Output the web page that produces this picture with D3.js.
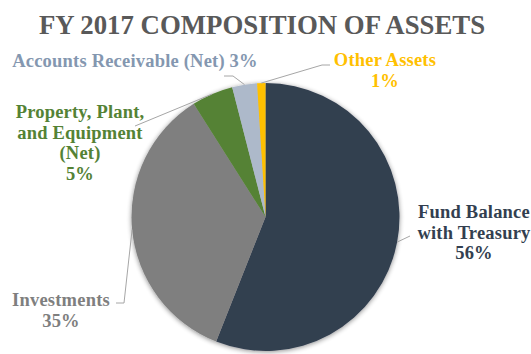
<!DOCTYPE html>
<html>
<head>
<meta charset="utf-8">
<script src="https://cdn.jsdelivr.net/npm/d3@7"></script>
<style>
  html, body { margin: 0; padding: 0; background: #fff; }
  svg { display: block; }
  text { font-family: "Liberation Serif", "DejaVu Serif", serif; font-weight: bold; }
</style>
</head>
<body>
<svg id="chart" width="531" height="354"></svg>
<script>
// Asset categories and their share of total assets (%), clockwise from 12 o'clock
const categories = [
  "Fund Balance with Treasury",
  "Investments",
  "Property, Plant, and Equipment (Net)",
  "Accounts Receivable (Net)",
  "Other Assets"
];
const shares = [56, 35, 5, 3, 1];
const colors = ["#333f50", "#7f7f7f", "#548235", "#adb9ca", "#ffc000"];
const labelColors = ["#333f50", "#7f7f7f", "#548235", "#8497b0", "#ffc000"];
const title = "FY 2017 COMPOSITION OF ASSETS";

// Label text lines (last line carries the percentage)
const labelLines = [
  ["Fund Balance", "with Treasury", "56%"],
  ["Investments", "35%"],
  ["Property, Plant,", "and Equipment", "(Net)", "5%"],
  ["Accounts Receivable (Net) 3%"],
  ["Other Assets", "1%"]
];

// Layout: label anchor (centre x, first baseline y) and leader elbow points
const layout = [
  { x: 474, y: 218, lead: [[410, 236]] },
  { x: 61, y: 306, lead: [[116, 303], [124, 303]] },
  { x: 80, y: 118, lead: [[135, 126]] },
  { x: 135, y: 67, lead: [[224, 76], [233, 76]] },
  { x: 385, y: 66, lead: [[330, 65], [322, 65]] }
];

const svg = d3.select("#chart");
const cx = 265.5, cy = 217, r = 134;
const lineH = 20.5;

svg.append("text")
  .attr("x", 262).attr("y", 34)
  .attr("text-anchor", "middle")
  .attr("fill", "#595959")
  .style("font-size", "26.8px")
  .text(title);

const defs = svg.append("defs");
const f = defs.append("filter").attr("id", "shadow")
  .attr("x", "-10%").attr("y", "-10%").attr("width", "120%").attr("height", "120%");
f.append("feGaussianBlur").attr("in", "SourceAlpha").attr("stdDeviation", 2.5).attr("result", "b");
f.append("feOffset").attr("in", "b").attr("dx", 0).attr("dy", 1).attr("result", "o");
f.append("feComponentTransfer").attr("in", "o").attr("result", "s")
  .append("feFuncA").attr("type", "linear").attr("slope", 0.45);
const m = f.append("feMerge");
m.append("feMergeNode").attr("in", "s");
m.append("feMergeNode").attr("in", "SourceGraphic");

const pie = d3.pie().sort(null).value(d => d);
const arcs = pie(shares);
const arc = d3.arc().innerRadius(0).outerRadius(r);

const g = svg.append("g").attr("transform", `translate(${cx},${cy})`);
g.append("g").attr("filter", "url(#shadow)")
  .selectAll("path").data(arcs).join("path")
  .attr("d", arc)
  .attr("fill", (d, i) => colors[i]);

// Leader lines from slice edge (mid-angle) to the label
const edge = d => {
  const a = (d.startAngle + d.endAngle) / 2;
  return [cx + r * Math.sin(a), cy - r * Math.cos(a)];
};
const line = d3.line();
svg.append("g").selectAll("path").data(arcs).join("path")
  .attr("d", (d, i) => line([...layout[i].lead, edge(d)]))
  .attr("fill", "none")
  .attr("stroke", "#a6a6a6")
  .attr("stroke-width", 1);

// Labels
arcs.forEach((d, i) => {
  const t = svg.append("text")
    .attr("text-anchor", "middle")
    .attr("fill", labelColors[i])
    .style("font-size", "18.5px")
    .style("letter-spacing", "0.2px");
  labelLines[i].forEach((s, k) => {
    t.append("tspan").attr("x", layout[i].x).attr("y", layout[i].y + k * lineH).text(s);
  });
});
</script>
</body>
</html>
